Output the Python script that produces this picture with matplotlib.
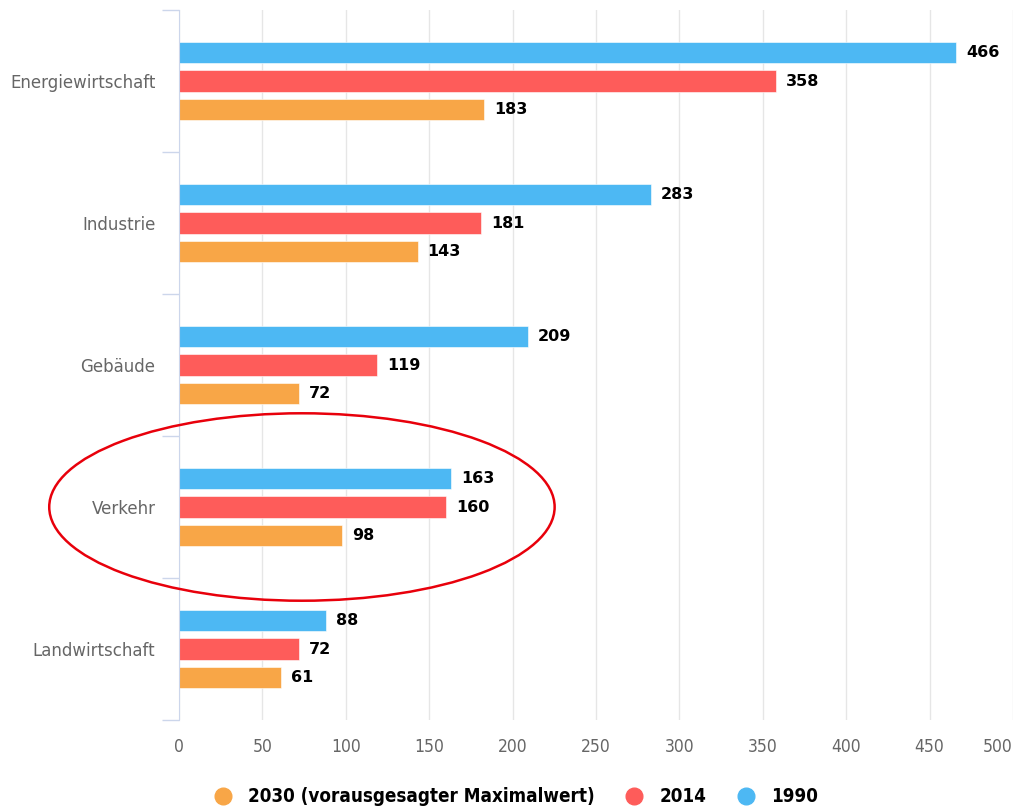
import matplotlib.pyplot as plt
from matplotlib.patches import Ellipse
from matplotlib.lines import Line2D
from matplotlib import font_manager

# data
sectors = ["Energiewirtschaft", "Industrie", "Gebäude", "Verkehr", "Landwirtschaft"]
v1990 = [466, 283, 209, 163, 88]
v2014 = [358, 181, 119, 160, 72]
v2030 = [183, 143, 72, 98, 61]
series_names = ["2030 (vorausgesagter Maximalwert)", "2014", "1990"]
xticks = [0, 50, 100, 150, 200, 250, 300, 350, 400, 450, 500]

c1990 = "#4db8f3"
c2014 = "#fe5c5a"
c2030 = "#f8a647"

names = set(f.name for f in font_manager.fontManager.ttflist)
narrow = "Liberation Sans Narrow" if "Liberation Sans Narrow" in names else "DejaVu Sans"

fig = plt.figure(figsize=(10.16, 8.08), dpi=100)
ax = fig.add_axes([179 / 1016, 1 - 720 / 808, 834 / 1016, 710 / 808])

ypos = list(range(len(sectors)))
h = 0.148
for vals, off, col in [(v1990, -0.2, c1990), (v2014, 0.0, c2014), (v2030, 0.2, c2030)]:
    ys = [y + off for y in ypos]
    ax.barh(ys, vals, height=h, color=col, edgecolor="white", linewidth=0.4, zorder=3)
    for y, v in zip(ys, vals):
        ax.text(v + 6, y, str(v), va="center", ha="left", fontsize=11.5,
                fontweight="bold", color="#000000", zorder=4)

ax.set_xlim(0, 500)
ax.set_ylim(len(sectors) - 0.5, -0.5)
ax.set_xticks(xticks)
ax.set_xticklabels([str(t) for t in xticks], fontfamily=narrow, fontstretch="condensed",
                   fontsize=12.5, color="#666666")
ax.get_xticklabels()[-1].set_horizontalalignment("right")
ax.set_yticks(ypos)
ax.set_yticklabels(sectors, fontsize=12, color="#666666")
ax.set_yticks([y - 0.5 for y in ypos] + [len(sectors) - 0.5], minor=True)
ax.tick_params(axis="y", which="major", length=0, pad=17)
ax.tick_params(axis="y", which="minor", length=12, color="#ccd6eb", width=1)
ax.tick_params(axis="x", length=0, pad=13)

ax.grid(axis="x", color="#e6e6e6", linewidth=1, zorder=0)
for s in ["top", "right", "bottom"]:
    ax.spines[s].set_visible(False)
ax.spines["left"].set_color("#ccd6eb")
ax.spines["left"].set_zorder(5)

# red ellipse around Verkehr
ell = Ellipse((73.7, 3.0), width=303, height=1.32, fill=False, edgecolor="#e8000b",
              linewidth=1.8, clip_on=False, zorder=6)
ax.add_patch(ell)

handles = [Line2D([], [], marker="o", linestyle="", markersize=12, color=c)
           for c in [c2030, c2014, c1990]]
fig.legend(handles, series_names, loc="lower center", bbox_to_anchor=(0.503, -0.019),
           ncol=3, frameon=False, handletextpad=0.35, columnspacing=1.1,
           prop={"family": narrow, "weight": "bold", "size": 13.5, "stretch": "condensed"})

fig.savefig("out.png", dpi=100)
